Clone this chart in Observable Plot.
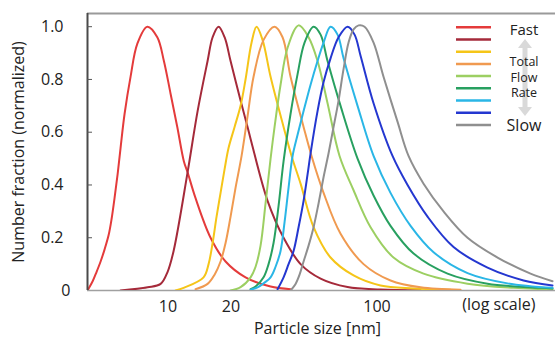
<!DOCTYPE html>
<html><head><meta charset="utf-8">
<script src="https://cdn.jsdelivr.net/npm/d3@7"></script>
<script src="https://cdn.jsdelivr.net/npm/@observablehq/plot@0.6"></script>
<style>
html,body{margin:0;padding:0;background:#fff;}
#wrap{position:relative;width:555px;height:337px;font-family:"Open Sans",sans-serif;}
</style></head><body><div id="wrap"></div>
<script>
// ---- data ----
const seriesIds = [1,2,3,4,5,6,7,8,9];
const seriesColors = ["#e43b3b","#a52a3a","#f5c518","#f09a50","#9ccf62","#28a060","#2ab6e6","#2437d0","#8f8f8f"];
const xTicks = [10,20,40,60,100];
const yTicks = [0,0.2,0.4,0.6,0.8,1.0];
const xDomain = [4.12, 715];
const yDomain = [0, 1.05];
const xTitle = "Particle size [nm]";
const yTitle = "Number fraction (normalized)";
const scaleNote = "(log scale)";
const legendWords = ["Fast","Total","Flow","Rate","Slow"];

const size1 = [4.12,4.36,4.55,4.76,4.97,5.20,5.37,5.55,5.74,5.93,6.20,6.62,7.13,7.96,8.89,9.56,10.29,11.08,11.91,12.41,13.55,15.99,18.86,23.5,30.97,38.6];
const frac1 = [0,0.035,0.07,0.11,0.155,0.21,0.27,0.35,0.44,0.54,0.67,0.81,0.935,1.0,0.96,0.87,0.746,0.62,0.49,0.448,0.35,0.20,0.11,0.05,0.015,0.005];

const size2 = [5.93,7.99,9.22,9.95,10.64,12.41,13.86,15.47,16.35,17.46,18.66,19.93,22.25,24.03,25.12,29.96,35.74,43.10,53.73,72.33,104.0,161.7];
const frac2 = [0,0.012,0.025,0.07,0.15,0.448,0.68,0.87,0.96,1.0,0.96,0.87,0.72,0.62,0.56,0.34,0.2,0.10,0.045,0.013,0.004,0.001];

const size3 = [10.87,11.88,14.80,15.64,16.35,17.08,17.85,18.66,19.49,20.83,22.25,23.50,25.12,26.54,28.35,30.97,35.74,39.02,43.10,49.74,59.96,77.27,104.0,149.7,224.9];
const frac3 = [0,0.01,0.05,0.10,0.18,0.28,0.37,0.46,0.54,0.62,0.70,0.80,0.94,1.0,0.95,0.81,0.62,0.51,0.405,0.24,0.125,0.057,0.019,0.008,0.003];

const size4 = [13.55,15.47,16.71,17.85,18.86,19.93,21.06,22.50,24.03,25.67,28.67,32.36,35.34,38.6,44.55,48.64,55.54,66.96,86.27,116.1,161.7,251.2];
const frac4 = [0.005,0.025,0.06,0.11,0.18,0.28,0.39,0.51,0.66,0.81,0.95,1.0,0.96,0.81,0.62,0.51,0.37,0.215,0.10,0.038,0.012,0.003];

const size5 = [19.93,22.25,24.85,26.25,27.73,29.30,30.97,32.36,34.57,37.35,42.16,47.07,51.96,58.02,66.22,77.27,93.18,120.0,167.1,271.3,450.3,692];
const frac5 = [0,0.0125,0.05,0.09,0.17,0.33,0.50,0.62,0.78,0.92,1.005,0.96,0.87,0.71,0.51,0.38,0.24,0.125,0.064,0.026,0.01,0.004];

const size6 = [24.85,26.25,28.67,30.29,32.00,33.81,35.74,38.6,41.70,45.03,49.74,53.73,58.02,66.96,80.75,96.31,116.1,149.7,217.6,338.1,606.3,692];
const frac6 = [0.005,0.015,0.05,0.10,0.18,0.32,0.49,0.67,0.82,0.94,1.0,0.97,0.87,0.70,0.50,0.36,0.245,0.14,0.064,0.026,0.01,0.008];

const size7 = [24.85,26.84,28.99,30.97,32.72,34.57,36.14,37.76,39.47,41.70,44.55,48.12,51.96,55.54,59.96,64.78,69.22,80.75,96.31,116.1,144.8,186.6,271.3,421.5,692];
const frac7 = [0.003,0.012,0.03,0.05,0.09,0.15,0.26,0.39,0.51,0.59,0.68,0.78,0.87,0.94,1.0,0.97,0.88,0.70,0.51,0.37,0.245,0.145,0.066,0.027,0.01];

const size8 = [33.45,35.74,37.76,39.90,42.16,44.55,46.55,48.12,51.96,55.54,59.96,65.50,72.33,78.13,83.46,96.31,118.7,140.1,174.6,232.5,338.1,502.8,692];
const frac8 = [0.005,0.05,0.10,0.15,0.24,0.34,0.44,0.52,0.68,0.79,0.88,0.96,1.0,0.97,0.89,0.71,0.51,0.40,0.28,0.165,0.087,0.038,0.019];

const size9 = [38.6,40.79,42.62,44.55,47.07,49.74,52.54,55.54,58.67,62.0,65.50,69.22,73.13,77.27,81.64,87.22,96.31,107.5,125.4,141.6,167.1,208.2,271.3,377.6,543.0,692];
const frac9 = [0,0.025,0.06,0.11,0.17,0.24,0.33,0.43,0.52,0.62,0.72,0.84,0.94,0.99,1.005,1.0,0.94,0.81,0.64,0.51,0.405,0.30,0.20,0.125,0.064,0.035];

const sizes = [size1,size2,size3,size4,size5,size6,size7,size8,size9];
const fracs = [frac1,frac2,frac3,frac4,frac5,frac6,frac7,frac8,frac9];
const rows = seriesIds.flatMap((id, i) => sizes[i].map((s, j) => ({series: id, size: s, frac: fracs[i][j]})));

const fmtY = d => d === 0 ? "0" : d.toFixed(1);

const chart = Plot.plot({
  width: 555, height: 337,
  marginLeft: 87, marginRight: 0, marginTop: 13, marginBottom: 47,
  style: {fontFamily: "'Open Sans', sans-serif", fontSize: "16px", color: "#222", background: "#fff", overflow: "visible"},
  x: {type: "log", domain: xDomain, label: null},
  y: {domain: yDomain, label: null},
  color: {domain: seriesIds, range: seriesColors},
  marks: [
    Plot.ruleY([yDomain[1]], {stroke: "#9a9a9a", strokeWidth: 2}),
    Plot.ruleY([0], {stroke: "#a0a0a0", strokeWidth: 1.5}),
    Plot.line(rows, {x: "size", y: "frac", z: "series", stroke: "series", strokeWidth: 2, curve: "catmull-rom", clip: true}),
    Plot.ruleX([xDomain[0]], {stroke: "#4a4a4a", strokeWidth: 2}),
    Plot.axisY(yTicks.filter(d => d > 0), {tickSize: 5, dx: 5, stroke: "#555", tickFormat: () => "", label: null}),
    Plot.axisX(xTicks, {tickSize: 0, tickPadding: 10, tickFormat: d => String(d), fontSize: 16, label: null}),
    Plot.axisY(yTicks.filter(d => d > 0), {tickSize: 0, tickPadding: 24, tickFormat: fmtY, fontSize: 16, label: null}),
    Plot.axisY([0], {tickSize: 0, tickPadding: 17, tickFormat: fmtY, fontSize: 16, label: null}),
    Plot.text([yTitle], {frameAnchor: "left", textAnchor: "middle", rotate: -90, dx: -69, fontSize: 16}),
    Plot.text([xTitle], {frameAnchor: "bottom", dx: -4, dy: 43, fontSize: 16}),
    Plot.text([scaleNote], {frameAnchor: "bottom-right", textAnchor: "end", dx: -20, dy: 19, fontSize: 16})
  ]
});
document.getElementById("wrap").appendChild(chart);

// ---- legend overlay (built from the series colours) ----
const leg = d3.select("#wrap").append("svg")
  .attr("width", 555).attr("height", 337)
  .style("position", "absolute").style("left", "0px").style("top", "0px")
  .style("font-family", "'Open Sans', sans-serif");
leg.append("path")
  .attr("d", "M525,39 l-7,9 h4.5 v59 h-4.5 l7,9 l7,-9 h-4.5 v-59 h4.5 z")
  .attr("fill", "#d9d9d9");
seriesColors.forEach((c, i) => {
  const y = 27.3 + i * 12.2;
  leg.append("line").attr("x1", 456).attr("x2", 491).attr("y1", y).attr("y2", y)
    .attr("stroke", c).attr("stroke-width", 2.5);
});
const wordPlace = [[29, 15], [61.5, 12.5], [77, 12.5], [92.5, 12.5], [125, 16]];
legendWords.forEach((w, i) => {
  leg.append("text").attr("x", 524).attr("y", wordPlace[i][0])
    .attr("text-anchor", "middle").attr("dominant-baseline", "central")
    .attr("font-size", wordPlace[i][1]).attr("fill", "#222").text(w);
});
</script>
</body></html>
